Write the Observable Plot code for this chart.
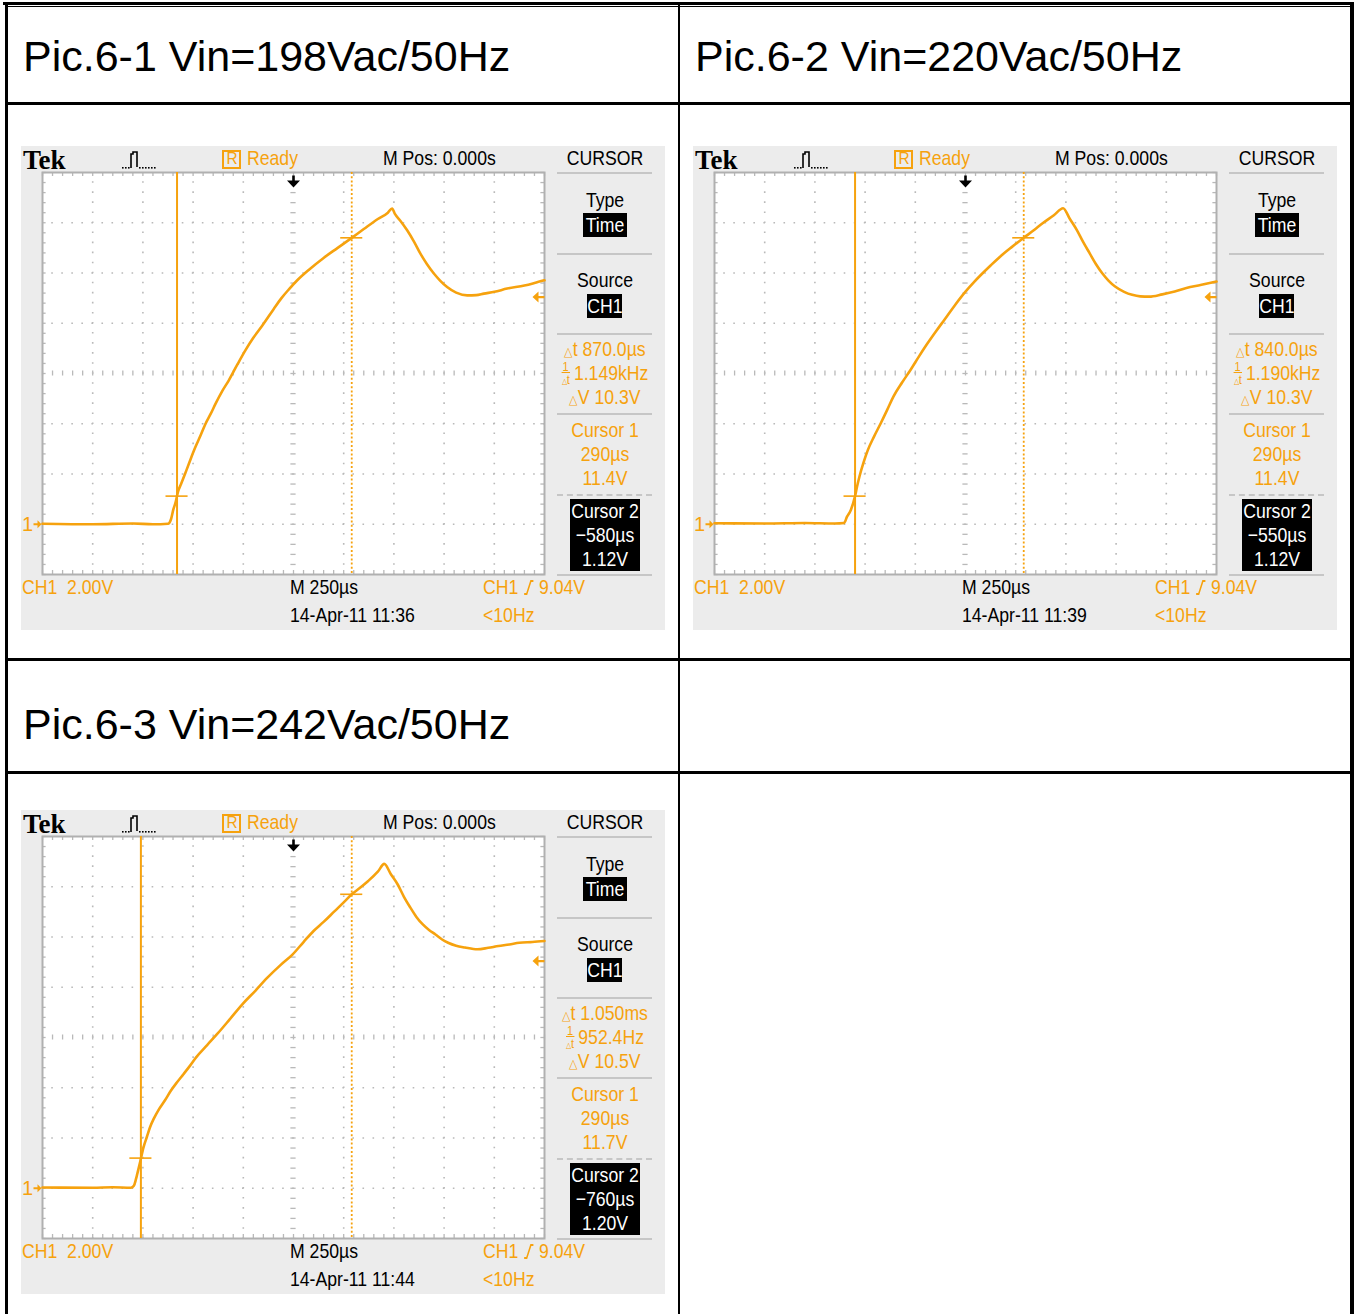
<!DOCTYPE html>
<html><head><meta charset="utf-8">
<script src="https://cdn.jsdelivr.net/npm/d3@7"></script>
<script src="https://cdn.jsdelivr.net/npm/@observablehq/plot@0.6"></script>
<style>
body{margin:0;background:#fff;width:1354px;height:1314px;position:relative;overflow:hidden;font-family:"Liberation Sans",Arial,sans-serif;}
.ln{position:absolute;background:#000;}
.hdr{position:absolute;font-size:43px;line-height:43px;color:#000;white-space:nowrap;}
.scope{position:absolute;width:644px;height:484px;background:#ececec;overflow:hidden;}
.scope > svg{position:absolute;left:0;top:0;}
.t{position:absolute;white-space:nowrap;font-size:21px;}
.box{position:absolute;}
.sep{position:absolute;left:536px;width:95px;height:0;border-top:2px solid #c6c6c6;}
.frac{display:inline-flex;flex-direction:column;align-items:center;font-size:13px;line-height:11px;vertical-align:middle;margin-right:5px;}
.frac span+span{border-top:1.5px solid currentColor;padding-top:1px;}
.tri{font-size:.62em;}
</style></head><body>
<script>
// ---- data ----
const panelTitles = ["Pic.6-1 Vin=198Vac/50Hz", "Pic.6-2 Vin=220Vac/50Hz", "Pic.6-3 Vin=242Vac/50Hz"];
// waveform samples: [time µs, volts]
const wave198 = [[-1250,0.02],[-1000,0.0],[-800,0.03],[-700,0.0],[-625,0.02],[-610,0.2],[-598,0.6],[-588,0.85],[-575,1.3],[-560,1.6],[-538,2.05],[-512,2.6],[-488,3.08],[-462,3.55],[-438,4.0],[-412,4.4],[-388,4.8],[-355,5.3],[-322,5.73],[-280,6.35],[-239,6.93],[-200,7.42],[-156,7.9],[-100,8.55],[-60,9.0],[-23,9.35],[20,9.72],[80,10.15],[150,10.6],[220,11.0],[290,11.4],[350,11.75],[420,12.15],[470,12.4],[491,12.57],[505,12.35],[530,12.1],[566,11.7],[600,11.25],[632,10.77],[665,10.35],[699,9.98],[730,9.7],[765,9.44],[810,9.22],[865,9.11],[910,9.12],[948,9.18],[1000,9.25],[1064,9.38],[1150,9.5],[1200,9.6],[1250,9.71]];
const wave220 = [[-1250,0.04],[-1000,0.03],[-800,0.05],[-650,0.03],[-605,0.05],[-590,0.3],[-571,0.57],[-550,1.12],[-540,1.5],[-528,1.9],[-508,2.45],[-486,2.96],[-455,3.5],[-422,4.02],[-390,4.55],[-359,5.08],[-315,5.65],[-274,6.14],[-230,6.7],[-189,7.2],[-145,7.7],[-104,8.15],[-50,8.75],[2,9.28],[40,9.62],[80,9.95],[125,10.3],[172,10.65],[230,11.03],[290,11.4],[340,11.7],[384,11.98],[440,12.3],[486,12.58],[520,12.15],[554,11.72],[585,11.25],[618,10.79],[650,10.35],[681,9.99],[712,9.7],[745,9.46],[790,9.25],[830,9.13],[870,9.07],[915,9.06],[980,9.15],[1042,9.26],[1100,9.4],[1170,9.52],[1250,9.66]];
const wave242 = [[-1250,0.03],[-1000,0.02],[-900,0.04],[-810,0.02],[-795,0.1],[-785,0.35],[-778,0.57],[-765,1.0],[-747,1.63],[-730,2.05],[-715,2.42],[-695,2.78],[-674,3.09],[-640,3.5],[-611,3.88],[-580,4.22],[-548,4.54],[-515,4.88],[-485,5.21],[-430,5.7],[-381,6.13],[-320,6.7],[-255,7.32],[-190,7.86],[-130,8.38],[-65,8.88],[-4,9.31],[50,9.8],[100,10.24],[150,10.6],[205,11.03],[250,11.38],[290,11.7],[330,11.95],[372,12.23],[420,12.6],[452,12.91],[485,12.5],[519,12.09],[550,11.6],[582,11.17],[612,10.8],[644,10.5],[675,10.28],[707,10.1],[740,9.9],[770,9.77],[810,9.65],[854,9.58],[916,9.51],[970,9.57],[1021,9.64],[1075,9.7],[1125,9.77],[1190,9.8],[1250,9.84]];
const deltaTime = ["870.0µs", "840.0µs", "1.050ms"];
const inverseDelta = ["1.149kHz", "1.190kHz", "952.4Hz"];
const deltaVolt = ["10.3V", "10.3V", "10.5V"];
const cursor1Time = [290, 290, 290];
const cursor1Volt = [11.4, 11.4, 11.7];
const cursor2Time = [-580, -550, -760];
const cursor2Volt = [1.12, 1.12, 1.20];
const timestamps = ["14-Apr-11 11:36", "14-Apr-11 11:39", "14-Apr-11 11:44"];
const triggerLevel = 9.04;
const timeDomain = [-1250, 1250];  // 250 µs/div, 10 div
const voltDomain = [-2, 14];       // 2.00 V/div, 8 div, ground 3 div below centre
const scaleLabels = ["CH1\u00a0\u00a02.00V", "M 250µs", "9.04V", "<10Hz", "M Pos: 0.000s"];

// ---- styling / layout ----
const ORANGE = "#f6a20e";
const GRID = "#b9b9b9";
const scopeOrigins = [[21,146],[693,146],[21,810]];
const headerOrigins = [[23,71.5],[695,71.5],[23,739.5]];
const waves = [wave198, wave220, wave242];

const fmtT = t => (t < 0 ? "−" : "") + Math.abs(t) + "µs";
const fmtV = v => d3.format(".3r")(v) + "V";

const arrowDown = {draw(c){ c.moveTo(-1.3,-6); c.lineTo(1.3,-6); c.lineTo(1.3,-1); c.lineTo(6.5,-1); c.lineTo(0,6); c.lineTo(-6.5,-1); c.lineTo(-1.3,-1); c.closePath(); }};
const arrowLeft = {draw(c){ c.moveTo(6,-1.2); c.lineTo(6,1.2); c.lineTo(0,1.2); c.lineTo(0,5.5); c.lineTo(-6,0); c.lineTo(0,-5.5); c.lineTo(0,-1.2); c.closePath(); }};
const arrowRight = {draw(c){ c.moveTo(-4,-1); c.lineTo(-4,1); c.lineTo(0,1); c.lineTo(0,4); c.lineTo(4,0); c.lineTo(0,-4); c.lineTo(0,-1); c.closePath(); }};

function el(tag, cls, parent){ const e = document.createElement(tag); if (cls) e.className = cls; parent.appendChild(e); return e; }
function line(x, y, w, h){ const d = el("div", "ln", document.body); Object.assign(d.style, {left:x+"px", top:y+"px", width:w+"px", height:h+"px"}); }
function box(parent, x, y, w, h, css){ const d = el("div", "box", parent); Object.assign(d.style, {left:x+"px", top:y+"px", width:w+"px", height:h+"px"}, css||{}); return d; }
function txt(parent, s, x, y, o = {}){
  const {anchor="start", color="#000", size=21, weight=400, family=null, html=false, sx=.84} = o;
  const lh = Math.round(size * 1.25);
  const d = el("div", "t", parent);
  Object.assign(d.style, {left:x+"px", top:(y - lh/2)+"px", lineHeight: lh+"px", color, fontSize:size+"px", fontWeight:weight});
  if (family) d.style.fontFamily = family;
  if (anchor === "middle") { d.style.transformOrigin = "50% 50%"; d.style.transform = `translateX(-50%) scaleX(${sx})`; }
  else { d.style.transformOrigin = "0 50%"; d.style.transform = `scaleX(${sx})`; }
  if (html) d.innerHTML = s; else d.textContent = s;
  return d;
}

function scopePlot(wave, c1t, c1v, c2t, c2v){
  const tMinor = d3.range(-1250, 1250.001, 50);
  const vMinor = d3.range(-2, 14.001, 0.4);
  const tDiv = d3.range(-1000, 1000.001, 250).filter(d => d !== 0);
  const vDiv = d3.range(0, 12.001, 2).filter(d => d !== 6);
  const tickStyle = {stroke: GRID, strokeWidth: 1.3};
  return Plot.plot({
    width: 644, height: 484,
    marginLeft: 21, marginRight: 121, marginTop: 26, marginBottom: 56,
    x: {domain: timeDomain, axis: null},
    y: {domain: voltDomain, axis: null},
    style: {background: "transparent", overflow: "visible"},
    marks: [
      Plot.frame({fill: "white", stroke: "none"}),
      Plot.ruleX(tDiv, {stroke: GRID, strokeWidth: 1.6, strokeDasharray: "1.6,8.45", strokeDashoffset: 0.8}),
      Plot.ruleY(vDiv, {stroke: GRID, strokeWidth: 1.6, strokeDasharray: "1.6,8.44", strokeDashoffset: 0.8}),
      Plot.ruleY(vMinor, {x1: -13, x2: 13, ...tickStyle}),
      Plot.ruleX(tMinor, {y1: 5.9, y2: 6.1, ...tickStyle}),
      Plot.ruleX(tMinor, {y1: 14, y2: 13.84, ...tickStyle}),
      Plot.ruleX(tMinor, {y1: -2, y2: -1.84, ...tickStyle}),
      Plot.ruleY(vMinor, {x1: -1250, x2: -1232, ...tickStyle}),
      Plot.ruleY(vMinor, {x1: 1250, x2: 1232, ...tickStyle}),
      Plot.frame({stroke: "#b0b0b0", strokeWidth: 2}),
      Plot.ruleX([c2t], {stroke: ORANGE, strokeWidth: 2}),
      Plot.ruleX([c1t], {stroke: ORANGE, strokeWidth: 1.8, strokeDasharray: "2,2.2"}),
      Plot.ruleY([c2v], {x1: c2t - 55, x2: c2t + 55, stroke: ORANGE, strokeWidth: 1.6}),
      Plot.ruleY([c1v], {x1: c1t - 55, x2: c1t + 55, stroke: ORANGE, strokeWidth: 1.6}),
      Plot.line(wave, {x: d => d[0], y: d => d[1], stroke: ORANGE, strokeWidth: 2.6, strokeLinejoin: "round", curve: "monotone-x"}),
      Plot.dot([0], {x: d => d, y: voltDomain[1], dy: 9, symbol: arrowDown, fill: "black", stroke: "none"}),
      Plot.dot([triggerLevel], {x: timeDomain[1], y: d => d, dx: -6, symbol: arrowLeft, fill: ORANGE, stroke: "none"}),
      Plot.dot([0], {x: timeDomain[0], y: d => d, dx: -5, symbol: arrowRight, fill: ORANGE, stroke: "none"}),
      Plot.text(["1"], {x: timeDomain[0], y: 0, dx: -15, text: d => d, fill: ORANGE, fontSize: 20, fontFamily: "Liberation Sans"})
    ]
  });
}

// ---- table lines ----
line(3, 2, 1351, 3);
line(5, 6, 1346, 1);
line(5, 5, 3, 1309);
line(677.5, 5, 2.5, 1309);
line(1350, 2, 4, 1312);
line(5, 102, 1349, 2.5);
line(5, 658, 1349, 2.5);
line(5, 771, 1349, 2.5);

panelTitles.forEach((title, i) => {
  const [hx, hy] = headerOrigins[i];
  const h = el("div", "hdr", document.body);
  h.textContent = title;
  h.style.left = hx + "px";
  h.style.top = (hy - 36.4) + "px";

  const [ox, oy] = scopeOrigins[i];
  const s = el("div", "scope", document.body);
  s.style.left = ox + "px"; s.style.top = oy + "px";
  s.appendChild(scopePlot(waves[i], cursor1Time[i], cursor1Volt[i], cursor2Time[i], cursor2Volt[i]));

  // top bar
  txt(s, "Tek", 2, 14, {size: 27, weight: 700, family: "Liberation Serif", sx: 1});
  const pulse = el("div", "box", s);
  Object.assign(pulse.style, {left: "100px", top: "3px"});
  pulse.innerHTML = '<svg width="38" height="22"><path d="M10 19V5h2V3h4v15" fill="none" stroke="#000" stroke-width="1.6"/>' +
    [1,4,7,18,21,24,27,30,33].map(x => `<rect x="${x}" y="18" width="1.6" height="1.6" fill="#000"/>`).join("") + '</svg>';
  box(s, 201, 4, 15, 15, {border: "2px solid " + ORANGE});
  txt(s, "R", 210.5, 12.5, {anchor: "middle", color: ORANGE, size: 17, sx: .9});
  txt(s, "Ready", 226, 12, {color: ORANGE});
  txt(s, scaleLabels[4], 362, 12);
  txt(s, "CURSOR", 584, 12, {anchor: "middle"});

  // right menu
  [26, 107, 187, 267, 428].forEach(y => { const d = el("div", "sep", s); d.style.top = y + "px"; });
  const dash = el("div", "sep", s); dash.style.top = "348px"; dash.style.borderTopStyle = "dashed";
  txt(s, "Type", 584, 54, {anchor: "middle"});
  box(s, 562, 67, 44, 24, {background: "#000"});
  txt(s, "Time", 584, 79, {anchor: "middle", color: "#fff"});
  txt(s, "Source", 584, 134, {anchor: "middle"});
  box(s, 566, 148, 35, 24, {background: "#000"});
  txt(s, "CH1", 583.5, 160, {anchor: "middle", color: "#fff"});
  txt(s, '<span class="tri">△</span>t ' + deltaTime[i], 584, 203, {anchor: "middle", color: ORANGE, html: true});
  txt(s, '<span class="frac"><span>1</span><span><span class="tri">△</span>t</span></span>' + inverseDelta[i], 584, 227, {anchor: "middle", color: ORANGE, html: true});
  txt(s, '<span class="tri">△</span>V ' + deltaVolt[i], 584, 251, {anchor: "middle", color: ORANGE, html: true});
  txt(s, "Cursor 1", 584, 284, {anchor: "middle", color: ORANGE});
  txt(s, fmtT(cursor1Time[i]), 584, 308, {anchor: "middle", color: ORANGE});
  txt(s, fmtV(cursor1Volt[i]), 584, 332, {anchor: "middle", color: ORANGE});
  box(s, 549, 353, 70, 72, {background: "#000"});
  txt(s, "Cursor 2", 584, 365, {anchor: "middle", color: "#fff"});
  txt(s, fmtT(cursor2Time[i]), 584, 389, {anchor: "middle", color: "#fff"});
  txt(s, fmtV(cursor2Volt[i]), 584, 413, {anchor: "middle", color: "#fff"});

  // bottom bar
  txt(s, scaleLabels[0], 1, 441, {color: ORANGE});
  txt(s, scaleLabels[1], 269, 441);
  txt(s, 'CH1 <svg width="13" height="16" style="vertical-align:-1px"><path d="M1 15h3L9 2h3" fill="none" stroke="' + ORANGE + '" stroke-width="1.8"/></svg> ' + scaleLabels[2], 462, 441, {color: ORANGE, html: true});
  txt(s, timestamps[i], 269, 469);
  txt(s, scaleLabels[3], 462, 469, {color: ORANGE});
});
</script>
</body></html>
